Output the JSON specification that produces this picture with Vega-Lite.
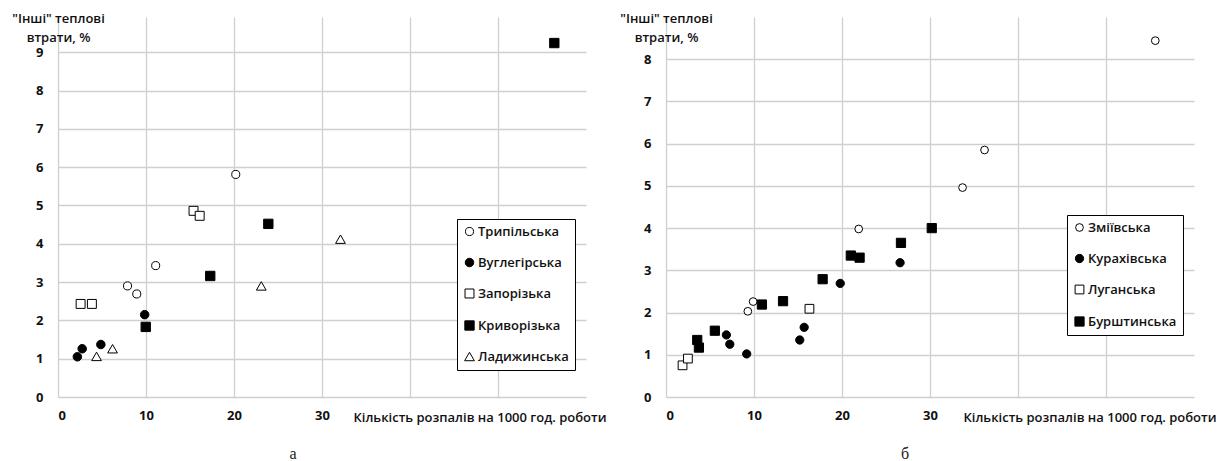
{
  "$schema": "https://vega.github.io/schema/vega-lite/v6.json",
  "background": "white",
  "autosize": {"type": "pad"},
  "padding": {"left": 11, "top": 12, "right": 0, "bottom": 0},
  "spacing": 80,
  "bounds": "flush",
  "config": {
    "view": {"stroke": null},
    "font": "Open Sans",
    "axis": {
      "gridColor": "#cfcfcf",
      "gridWidth": 1.3,
      "domain": false,
      "ticks": false,
      "tickSize": 0,
      "labelFont": "Open Sans",
      "labelFontSize": 13,
      "labelFontWeight": "bold",
      "labelColor": "#111111",
      "titleFont": "Open Sans",
      "titleFontSize": 13,
      "titleFontWeight": 600,
      "titleColor": "#111111"
    },
    "legend": {
      "orient": "none",
      "title": null,
      "fillColor": "white",
      "strokeColor": "black",
      "padding": 6,
      "rowPadding": 17,
      "labelFont": "Open Sans",
      "labelFontSize": 13,
      "labelFontWeight": 600,
      "labelColor": "#111111",
      "labelOffset": 2,
      "symbolSize": 40,
      "symbolStrokeWidth": 1
    },
    "title": {"font": "Liberation Serif", "fontSize": 16, "fontWeight": "normal", "color": "#222222"}
  },
  "resolve": {
    "scale": {"x": "independent", "y": "independent", "shape": "independent", "fill": "independent", "size": "independent", "stroke": "independent"},
    "legend": {"shape": "independent", "fill": "independent", "size": "independent", "stroke": "independent"}
  },
  "hconcat": [
    {
      "width": 528,
      "height": 380,
      "title": {"text": "а", "orient": "bottom", "anchor": "middle", "dx": -29, "offset": 22},
      "data": {
        "values": [
          {"s": "Трипільська", "x": 20.2, "y": 5.81},
          {"s": "Трипільська", "x": 11.1, "y": 3.43},
          {"s": "Трипільська", "x": 7.9, "y": 2.9},
          {"s": "Трипільська", "x": 8.95, "y": 2.69},
          {"s": "Вуглегірська", "x": 2.2, "y": 1.05},
          {"s": "Вуглегірська", "x": 2.75, "y": 1.26},
          {"s": "Вуглегірська", "x": 4.87, "y": 1.37},
          {"s": "Вуглегірська", "x": 9.85, "y": 2.15},
          {"s": "Запорізька", "x": 2.57, "y": 2.43},
          {"s": "Запорізька", "x": 3.85, "y": 2.43},
          {"s": "Запорізька", "x": 15.4, "y": 4.86},
          {"s": "Запорізька", "x": 16.1, "y": 4.73},
          {"s": "Криворізька", "x": 23.9, "y": 4.52},
          {"s": "Криворізька", "x": 17.3, "y": 3.16},
          {"s": "Криворізька", "x": 9.97, "y": 1.83},
          {"s": "Криворізька", "x": 56.4, "y": 9.24},
          {"s": "Ладижинська", "x": 4.38, "y": 1.06},
          {"s": "Ладижинська", "x": 6.2, "y": 1.26},
          {"s": "Ладижинська", "x": 23.1, "y": 2.9},
          {"s": "Ладижинська", "x": 32.1, "y": 4.12}
        ]
      },
      "mark": {"type": "point", "filled": true, "strokeWidth": 1, "opacity": 1},
      "encoding": {
        "x": {
          "field": "x", "type": "quantitative",
          "scale": {"domain": [0, 60], "nice": false},
          "axis": {
            "values": [0, 10, 20, 30, 40, 50],
            "labelExpr": "datum.value <= 30 ? datum.label : ''",
            "labelPadding": 12,
            "title": "Кількість розпалів на 1000 год. роботи",
            "titleX": 295, "titleY": 20, "titleAlign": "left", "titleBaseline": "middle", "titleAnchor": "start"
          }
        },
        "y": {
          "field": "y", "type": "quantitative",
          "scale": {"domain": [0, 9.92], "nice": false},
          "axis": {
            "values": [0, 1, 2, 3, 4, 5, 6, 7, 8, 9],
            "labelPadding": 15,
            "title": ["\"Інші\" теплові", "втрати, %"],
            "titleFontSize": 13,
            "titleAngle": 0, "titleAlign": "center", "titleX": 0, "titleY": 5,
            "titleBaseline": "alphabetic", "titleLineHeight": 19
          }
        },
        "size": {
          "field": "s", "type": "nominal",
          "scale": {"domain": ["Трипільська", "Вуглегірська", "Запорізька", "Криворізька", "Ладижинська"], "range": [65, 95, 75, 95, 130]},
          "legend": {"legendX": 399, "legendY": 202, "encode": {"symbols": {"size": {"value": 40}}}}
        },
        "shape": {
          "field": "s", "type": "nominal",
          "scale": {"domain": ["Трипільська", "Вуглегірська", "Запорізька", "Криворізька", "Ладижинська"], "range": ["circle", "circle", "square", "square", "triangle-up"]},
          "legend": {"legendX": 399, "legendY": 202, "encode": {"symbols": {"size": {"value": 40}}}}
        },
        "fill": {
          "field": "s", "type": "nominal",
          "scale": {"domain": ["Трипільська", "Вуглегірська", "Запорізька", "Криворізька", "Ладижинська"], "range": ["white", "black", "white", "black", "white"]},
          "legend": {"legendX": 399, "legendY": 202, "encode": {"symbols": {"size": {"value": 40}}}}
        },
        "stroke": {
          "field": "s", "type": "nominal",
          "scale": {"domain": ["Трипільська", "Вуглегірська", "Запорізька", "Криворізька", "Ладижинська"], "range": ["black", "black", "black", "black", "black"]},
          "legend": {"legendX": 399, "legendY": 202, "encode": {"symbols": {"size": {"value": 40}}}}
        }
      }
    },
    {
      "width": 528,
      "height": 380,
      "title": {"text": "б", "orient": "bottom", "anchor": "middle", "dx": -25, "offset": 22},
      "data": {
        "values": [
          {"s": "Зміївська", "x": 55.6, "y": 8.44},
          {"s": "Зміївська", "x": 36.2, "y": 5.85},
          {"s": "Зміївська", "x": 33.7, "y": 4.96},
          {"s": "Зміївська", "x": 21.9, "y": 3.98},
          {"s": "Зміївська", "x": 9.9, "y": 2.26},
          {"s": "Зміївська", "x": 9.3, "y": 2.03},
          {"s": "Курахівська", "x": 26.6, "y": 3.18},
          {"s": "Курахівська", "x": 19.8, "y": 2.69},
          {"s": "Курахівська", "x": 15.7, "y": 1.65},
          {"s": "Курахівська", "x": 15.2, "y": 1.35},
          {"s": "Курахівська", "x": 6.86, "y": 1.47},
          {"s": "Курахівська", "x": 7.25, "y": 1.25},
          {"s": "Курахівська", "x": 9.17, "y": 1.02},
          {"s": "Луганська", "x": 1.88, "y": 0.75},
          {"s": "Луганська", "x": 2.49, "y": 0.91},
          {"s": "Луганська", "x": 16.3, "y": 2.09},
          {"s": "Бурштинська", "x": 3.55, "y": 1.35},
          {"s": "Бурштинська", "x": 3.74, "y": 1.17},
          {"s": "Бурштинська", "x": 5.55, "y": 1.57},
          {"s": "Бурштинська", "x": 10.9, "y": 2.19},
          {"s": "Бурштинська", "x": 13.3, "y": 2.27},
          {"s": "Бурштинська", "x": 17.8, "y": 2.79},
          {"s": "Бурштинська", "x": 21.0, "y": 3.35},
          {"s": "Бурштинська", "x": 22.0, "y": 3.3},
          {"s": "Бурштинська", "x": 26.7, "y": 3.65},
          {"s": "Бурштинська", "x": 30.2, "y": 4.0}
        ]
      },
      "mark": {"type": "point", "filled": true, "strokeWidth": 1, "opacity": 1},
      "encoding": {
        "x": {
          "field": "x", "type": "quantitative",
          "scale": {"domain": [0, 60], "nice": false},
          "axis": {
            "values": [0, 10, 20, 30, 40, 50],
            "labelExpr": "datum.value <= 30 ? datum.label : ''",
            "labelPadding": 12,
            "title": "Кількість розпалів на 1000 год. роботи",
            "titleX": 297, "titleY": 20, "titleAlign": "left", "titleBaseline": "middle", "titleAnchor": "start"
          }
        },
        "y": {
          "field": "y", "type": "quantitative",
          "scale": {"domain": [0, 9], "nice": false},
          "axis": {
            "values": [0, 1, 2, 3, 4, 5, 6, 7, 8],
            "labelPadding": 15,
            "title": ["\"Інші\" теплові", "втрати, %"],
            "titleFontSize": 13,
            "titleAngle": 0, "titleAlign": "center", "titleX": 0, "titleY": 5,
            "titleBaseline": "alphabetic", "titleLineHeight": 19
          }
        },
        "size": {
          "field": "s", "type": "nominal",
          "scale": {"domain": ["Зміївська", "Курахівська", "Луганська", "Бурштинська"], "range": [60, 85, 80, 75]},
          "legend": {"legendX": 401, "legendY": 198, "encode": {"symbols": {"size": {"value": 40}}}}
        },
        "shape": {
          "field": "s", "type": "nominal",
          "scale": {"domain": ["Зміївська", "Курахівська", "Луганська", "Бурштинська"], "range": ["circle", "circle", "square", "square"]},
          "legend": {"legendX": 401, "legendY": 198, "encode": {"symbols": {"size": {"value": 40}}}}
        },
        "fill": {
          "field": "s", "type": "nominal",
          "scale": {"domain": ["Зміївська", "Курахівська", "Луганська", "Бурштинська"], "range": ["white", "black", "white", "black"]},
          "legend": {"legendX": 401, "legendY": 198, "encode": {"symbols": {"size": {"value": 40}}}}
        },
        "stroke": {
          "field": "s", "type": "nominal",
          "scale": {"domain": ["Зміївська", "Курахівська", "Луганська", "Бурштинська"], "range": ["black", "black", "black", "black"]},
          "legend": {"legendX": 401, "legendY": 198, "encode": {"symbols": {"size": {"value": 40}}}}
        }
      }
    }
  ]
}
